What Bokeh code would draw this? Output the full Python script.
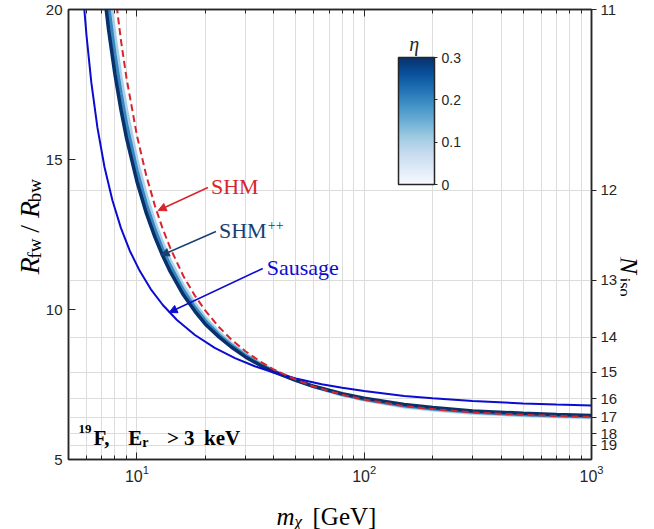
import math
from bokeh.plotting import figure
from bokeh.layouts import row, column
from bokeh.core.properties import value
from bokeh.models import (LinearAxis, LogAxis, FixedTicker, Label, Arrow, NormalHead,
                          ColorBar, LinearColorMapper)
from bokeh.palettes import Blues256
from bokeh.embed import file_html
from bokeh.resources import INLINE

# ---------------- data ----------------
eta_values = [0.0, 0.1, 0.2, 0.3]
mass_band = [6, 7, 7.5, 8, 8.5, 9, 10, 11, 12, 13, 14, 16, 18, 20, 23, 26, 30, 35, 40,
             50, 60, 80, 100, 150, 200, 300, 500, 700, 1000]
ratio_eta_00 = [33.4, 24.22, 21.66, 19.76, 18.28, 17.10, 15.34, 14.09, 13.15, 12.41, 11.83,
                10.94, 10.31, 9.83, 9.30, 8.92, 8.56, 8.23, 7.98, 7.66, 7.42, 7.13, 6.96,
                6.72, 6.62, 6.51, 6.43, 6.39, 6.36]
ratio_eta_01 = [31.6, 23.25, 20.89, 19.12, 17.74, 16.64, 14.98, 13.80, 12.90, 12.20, 11.64,
                10.79, 10.19, 9.72, 9.23, 8.86, 8.51, 8.20, 7.96, 7.65, 7.43, 7.15, 6.99,
                6.76, 6.66, 6.55, 6.47, 6.43, 6.40]
ratio_eta_02 = [29.7, 22.27, 20.11, 18.49, 17.21, 16.17, 14.63, 13.50, 12.66, 11.99, 11.46,
                10.64, 10.06, 9.62, 9.15, 8.81, 8.47, 8.16, 7.94, 7.65, 7.43, 7.17, 7.01,
                6.79, 6.69, 6.58, 6.50, 6.46, 6.43]
ratio_eta_03 = [27.9, 21.30, 19.34, 17.85, 16.67, 15.71, 14.27, 13.21, 12.41, 11.78, 11.27,
                10.49, 9.94, 9.51, 9.08, 8.75, 8.42, 8.13, 7.92, 7.64, 7.44, 7.19, 7.04,
                6.83, 6.73, 6.62, 6.54, 6.50, 6.47]

mass_shm = [7, 7.5, 8, 8.5, 9, 10, 11, 12, 13, 14, 16, 18, 20, 23, 26, 30, 35, 40, 50, 60,
            80, 100, 150, 200, 300, 500, 700, 1000]
ratio_shm = [25.58, 22.71, 20.60, 18.99, 17.71, 15.80, 14.46, 13.46, 12.68, 12.06, 11.12,
             10.46, 9.96, 9.41, 9.00, 8.61, 8.26, 8.00, 7.66, 7.43, 7.16, 7.00, 6.78, 6.68,
             6.57, 6.49, 6.45, 6.42]

mass_sausage = [5.5, 5.7, 5.87, 6.0, 6.3, 6.7, 7.2, 7.8, 8.5, 9.3, 10.3, 11.5, 13, 15, 18,
                22, 27, 33, 40, 50, 65, 80, 100, 150, 200, 300, 500, 700, 1000]
ratio_sausage = [23.5, 21.38, 20.0, 19.14, 17.57, 16.07, 14.75, 13.64, 12.72, 11.96, 11.28,
                 10.68, 10.15, 9.65, 9.15, 8.72, 8.38, 8.11, 7.90, 7.70, 7.51, 7.39, 7.28,
                 7.12, 7.04, 6.95, 6.87, 6.83, 6.80]

# right axis: N_iso labels and the R_fw/R_bw value where each sits
niso_labels = [11, 12, 13, 14, 15, 16, 17, 18, 19]
niso_positions = [20.0, 13.97, 10.97, 9.07, 7.91, 7.02, 6.41, 5.86, 5.47]

left_ticks = [5, 10, 15, 20]
x_major_ticks = [10, 100, 1000]
x_minor_ticks = [5, 6, 7, 8, 9, 20, 30, 40, 50, 60, 70, 80, 90,
                 200, 300, 400, 500, 600, 700, 800, 900]
eta_ticks = [0, 0.1, 0.2, 0.3]

# ---------------- layout / style ----------------
W, H = 654, 529
LEFT_W, RIGHT_W, BOTTOM_H = 42, 34, 41
MAIN_W, MAIN_H = W - LEFT_W - RIGHT_W, H - BOTTOM_H
FRAME_L, FRAME_R, FRAME_T, FRAME_B = 67, 592, 9, 459      # page pixels
X_MIN, X_MAX, Y_MIN, Y_MAX = 5, 1000, 5, 20
AX = "#262626"
GRID = "#dcdcdc"
RED = "#d7262b"
NAVY = "#173f73"
BLUE = "#0c0cd0"
SERIF = "Liberation Serif"
SANS = "Liberation Sans"


def mx(px):
    lo, hi = math.log10(X_MIN), math.log10(X_MAX)
    return 10 ** (lo + (px - FRAME_L) / (FRAME_R - FRAME_L) * (hi - lo))


def ry(py):
    return Y_MAX - (py - FRAME_T) / (FRAME_B - FRAME_T) * (Y_MAX - Y_MIN)


p = figure(width=MAIN_W, height=MAIN_H, x_axis_type="log", x_range=(X_MIN, X_MAX),
           y_range=(Y_MIN, Y_MAX), output_backend="svg", toolbar_location=None,
           min_border_left=FRAME_L - LEFT_W, min_border_right=(LEFT_W + MAIN_W) - FRAME_R,
           min_border_top=FRAME_T, min_border_bottom=MAIN_H - FRAME_B)
p.background_fill_color = "white"
p.border_fill_color = "white"
p.outline_line_color = AX
p.outline_line_width = 1.5


def style_axis(ax, tick_in, tick_out, minor_in=0, minor_out=0, label_size="15px"):
    ax.axis_line_color = AX
    ax.axis_line_width = 1.5
    ax.major_tick_line_color = AX
    ax.minor_tick_line_color = AX
    ax.major_tick_in = tick_in
    ax.major_tick_out = tick_out
    ax.minor_tick_in = minor_in
    ax.minor_tick_out = minor_out
    ax.major_label_text_font = SANS
    ax.major_label_text_font_size = label_size
    ax.major_label_text_color = AX
    ax.major_label_standoff = 6


xticker = FixedTicker(ticks=x_major_ticks, minor_ticks=x_minor_ticks)
xa = p.xaxis[0]
xa.ticker = xticker
style_axis(xa, 7, 0, 4, 0, label_size="16px")
xa.major_label_standoff = 5

ya = p.yaxis[0]
ya.ticker = FixedTicker(ticks=left_ticks)
style_axis(ya, 7, 0)

top = LogAxis(ticker=FixedTicker(ticks=x_major_ticks, minor_ticks=x_minor_ticks))
style_axis(top, 7, 0, 4, 0, label_size="1px")
top.major_label_text_alpha = 0
top.major_label_standoff = 0
p.add_layout(top, "above")

right_ticker = FixedTicker(ticks=niso_positions)
ra = LinearAxis(ticker=right_ticker,
                major_label_overrides={pos: str(n) for pos, n in zip(niso_positions, niso_labels)})
style_axis(ra, 0, 5)
ra.major_label_standoff = 4
p.add_layout(ra, "right")

p.xgrid.ticker = xticker
p.xgrid.grid_line_color = GRID
p.xgrid.minor_grid_line_color = GRID
p.ygrid.ticker = right_ticker
p.ygrid.grid_line_color = GRID

# ---------------- curves ----------------
palette = list(reversed(Blues256))
mapper = LinearColorMapper(palette=palette, low=0, high=0.3)
for eta, ratios in zip(eta_values, [ratio_eta_00, ratio_eta_01, ratio_eta_02, ratio_eta_03]):
    color = palette[int(round(eta / 0.3 * (len(palette) - 1)))]
    p.line(mass_band, ratios, line_color=color, line_width=3.5)

p.line(mass_sausage, ratio_sausage, line_color=BLUE, line_width=2)
p.line(mass_shm, ratio_shm, line_color=RED, line_width=2, line_dash="7 4")

# ---------------- colour bar ----------------
cb = ColorBar(color_mapper=mapper, location=(330, 275), width=36, height=127,
              padding=0, margin=0, ticker=FixedTicker(ticks=eta_ticks),
              major_label_overrides={t: ("0" if t == 0 else str(t)) for t in eta_ticks},
              major_label_text_font=SANS, major_label_text_font_size="14px",
              major_label_text_color=AX, label_standoff=4,
              bar_line_color=AX, bar_line_width=1.5,
              major_tick_line_color=AX, major_tick_in=0, major_tick_out=3,
              background_fill_alpha=0, border_line_color=None)
p.add_layout(cb)


def add_text(text, px, py, size, color="#000000", style="normal", font=SERIF,
             align="left", baseline="alphabetic", angle=0.0):
    p.add_layout(Label(x=mx(px), y=ry(py), text=text, text_font=font,
                       text_font_size=f"{size}px", text_font_style=style,
                       text_color=color, text_align=align, text_baseline=baseline,
                       angle=angle))


def add_arrow(x0, y0, x1, y1, color):
    p.add_layout(Arrow(x_start=mx(x0), y_start=ry(y0), x_end=mx(x1), y_end=ry(y1),
                       line_color=color, line_width=1.5,
                       end=NormalHead(size=8, fill_color=color, line_color=color)))


add_text("η", 414, 43, 20, color=AX, style="italic", align="center")

# annotations
add_text("SHM", 210, 186, 22, color=RED, baseline="middle")
add_arrow(207, 187, 157, 210, RED)
add_text("SHM", 218, 230, 22, color=NAVY, baseline="middle")
add_text("++", 267, 224, 14, color=NAVY, baseline="middle")
add_arrow(215, 231, 160, 255, NAVY)
add_text("Sausage", 266, 267, 22, color=BLUE, baseline="middle")
add_arrow(262, 268, 168, 312, BLUE)

# bottom-left bold label
add_text("19", 77, 428, 13, style="bold")
add_text("F,", 92, 437, 21, style="bold")
add_text("E", 127, 437, 21, style="bold")
add_text("r", 141, 442, 14, style="bold")
add_text(">", 166, 437, 21, style="bold")
add_text("3", 183, 437, 21, style="bold")
add_text("keV", 203, 437, 21, style="bold")


# ---------------- axis-label strips (texts with sub/superscripts) ----------------
def strip(w, h):
    f = figure(width=w, height=h, x_range=(0, w), y_range=(0, h), output_backend="svg",
               toolbar_location=None, min_border=0, x_axis_location=None,
               y_axis_location=None)
    f.grid.visible = False
    f.outline_line_color = None
    f.background_fill_color = "white"
    f.border_fill_color = "white"
    return f


def strip_text(f, x0, y0, pieces, angle):
    # pieces: (text, page_x, page_y, size, style)
    for text, px, py, size, style in pieces:
        f.text(x=[px - x0], y=[f.height - (py - y0)], text=[text], angle=angle,
               text_font=value(SERIF), text_font_size=value(f"{size}px"),
               text_font_style=value(style), text_color="#000000",
               text_align=value("left"), text_baseline=value("alphabetic"))


left_fig = strip(LEFT_W, MAIN_H)
strip_text(left_fig, 0, 0, [
    ("R", 29, 287, 28, "italic"),
    ("fw", 34, 270, 19, "normal"),
    ("/", 29, 242, 28, "normal"),
    ("R", 29, 226, 28, "italic"),
    ("bw", 34, 209, 19, "normal"),
], math.pi / 2)

right_fig = strip(RIGHT_W, MAIN_H)
strip_text(right_fig, W - RIGHT_W, 0, [
    ("N", 628, 268, 26, "italic"),
    ("iso", 624, 291, 16, "normal"),
], -math.pi / 2)

bottom_fig = strip(W, BOTTOM_H)
strip_text(bottom_fig, 0, MAIN_H, [
    ("m", 276, 516, 25, "italic"),
    ("χ", 294, 521, 17, "italic"),
    ("[GeV]", 312, 516, 25, "normal"),
], 0.0)

page = column(row(left_fig, p, right_fig), bottom_fig)
open("out.html", "w").write(file_html(page, INLINE))
